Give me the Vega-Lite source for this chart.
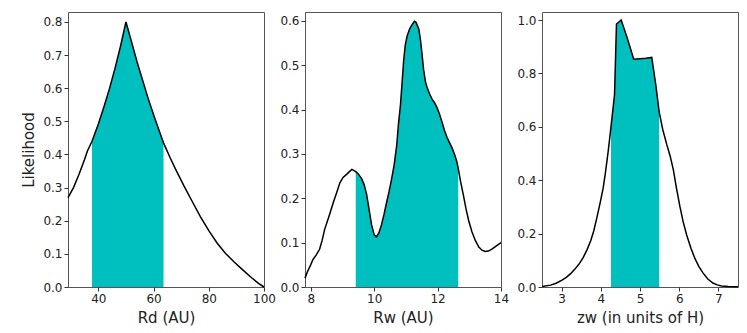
{
  "$schema": "https://vega.github.io/schema/vega-lite/v6.json",
  "padding": {"left": 21, "top": 11, "right": 5, "bottom": 2},
  "background": "white",
  "spacing": 41,
  "bounds": "flush",
  "datasets": {
    "rd": [
      {"x": 29, "y": 0.27}, {"x": 31, "y": 0.30}, {"x": 33, "y": 0.34}, {"x": 35, "y": 0.385},
      {"x": 36, "y": 0.41}, {"x": 37.7, "y": 0.44}, {"x": 40, "y": 0.492}, {"x": 42, "y": 0.543},
      {"x": 44, "y": 0.598}, {"x": 46, "y": 0.659}, {"x": 48, "y": 0.726}, {"x": 50, "y": 0.80},
      {"x": 52, "y": 0.74}, {"x": 54, "y": 0.68}, {"x": 56, "y": 0.625}, {"x": 58, "y": 0.57},
      {"x": 60, "y": 0.52}, {"x": 62, "y": 0.472}, {"x": 63.6, "y": 0.435}, {"x": 66, "y": 0.39},
      {"x": 68, "y": 0.355}, {"x": 71, "y": 0.305}, {"x": 74, "y": 0.258}, {"x": 77, "y": 0.212},
      {"x": 80, "y": 0.17}, {"x": 83, "y": 0.133}, {"x": 86, "y": 0.102}, {"x": 89, "y": 0.077},
      {"x": 92, "y": 0.054}, {"x": 95.5, "y": 0.028}, {"x": 98, "y": 0.011}, {"x": 100, "y": 0.0}
    ],
    "rw": [
      {"x": 7.82, "y": 0.02}, {"x": 7.9, "y": 0.035}, {"x": 8.0, "y": 0.05}, {"x": 8.07, "y": 0.062},
      {"x": 8.17, "y": 0.072}, {"x": 8.28, "y": 0.085}, {"x": 8.36, "y": 0.105}, {"x": 8.44, "y": 0.13},
      {"x": 8.58, "y": 0.16}, {"x": 8.71, "y": 0.19}, {"x": 8.82, "y": 0.213}, {"x": 8.92, "y": 0.235},
      {"x": 9.02, "y": 0.247}, {"x": 9.13, "y": 0.254}, {"x": 9.22, "y": 0.26}, {"x": 9.3, "y": 0.265},
      {"x": 9.42, "y": 0.26}, {"x": 9.5, "y": 0.255}, {"x": 9.6, "y": 0.245}, {"x": 9.68, "y": 0.232},
      {"x": 9.76, "y": 0.21}, {"x": 9.84, "y": 0.175}, {"x": 9.92, "y": 0.14}, {"x": 10.0, "y": 0.118},
      {"x": 10.07, "y": 0.113}, {"x": 10.15, "y": 0.122}, {"x": 10.23, "y": 0.14}, {"x": 10.31, "y": 0.163},
      {"x": 10.39, "y": 0.19}, {"x": 10.47, "y": 0.215}, {"x": 10.55, "y": 0.243}, {"x": 10.63, "y": 0.275},
      {"x": 10.71, "y": 0.318}, {"x": 10.77, "y": 0.37}, {"x": 10.83, "y": 0.41}, {"x": 10.88, "y": 0.46},
      {"x": 10.93, "y": 0.51}, {"x": 10.98, "y": 0.545}, {"x": 11.04, "y": 0.566}, {"x": 11.12, "y": 0.582},
      {"x": 11.2, "y": 0.592}, {"x": 11.27, "y": 0.599}, {"x": 11.32, "y": 0.597}, {"x": 11.41, "y": 0.581},
      {"x": 11.46, "y": 0.558}, {"x": 11.51, "y": 0.525}, {"x": 11.56, "y": 0.49}, {"x": 11.62, "y": 0.462},
      {"x": 11.67, "y": 0.45}, {"x": 11.75, "y": 0.435}, {"x": 11.83, "y": 0.423}, {"x": 11.9, "y": 0.416},
      {"x": 11.98, "y": 0.405}, {"x": 12.06, "y": 0.39}, {"x": 12.14, "y": 0.372}, {"x": 12.22, "y": 0.353},
      {"x": 12.3, "y": 0.337}, {"x": 12.38, "y": 0.325}, {"x": 12.46, "y": 0.313}, {"x": 12.54, "y": 0.298},
      {"x": 12.61, "y": 0.282}, {"x": 12.65, "y": 0.268}, {"x": 12.72, "y": 0.24}, {"x": 12.82, "y": 0.205},
      {"x": 12.9, "y": 0.175}, {"x": 12.98, "y": 0.15}, {"x": 13.08, "y": 0.125}, {"x": 13.19, "y": 0.105},
      {"x": 13.3, "y": 0.09}, {"x": 13.4, "y": 0.083}, {"x": 13.5, "y": 0.08}, {"x": 13.6, "y": 0.081},
      {"x": 13.7, "y": 0.085}, {"x": 13.8, "y": 0.09}, {"x": 13.9, "y": 0.095}, {"x": 14.0, "y": 0.1}
    ],
    "zw": [
      {"x": 2.5, "y": 0.002}, {"x": 2.72, "y": 0.007}, {"x": 2.86, "y": 0.014}, {"x": 3.0, "y": 0.025},
      {"x": 3.12, "y": 0.036}, {"x": 3.23, "y": 0.05}, {"x": 3.34, "y": 0.067}, {"x": 3.44, "y": 0.085},
      {"x": 3.55, "y": 0.11}, {"x": 3.65, "y": 0.14}, {"x": 3.74, "y": 0.172}, {"x": 3.82, "y": 0.21},
      {"x": 3.9, "y": 0.26}, {"x": 3.99, "y": 0.32}, {"x": 4.06, "y": 0.37}, {"x": 4.12, "y": 0.43},
      {"x": 4.19, "y": 0.51}, {"x": 4.26, "y": 0.6}, {"x": 4.35, "y": 0.72}, {"x": 4.40, "y": 0.985},
      {"x": 4.52, "y": 1.0}, {"x": 4.68, "y": 0.93}, {"x": 4.84, "y": 0.853}, {"x": 5.0, "y": 0.855},
      {"x": 5.15, "y": 0.857}, {"x": 5.3, "y": 0.86}, {"x": 5.4, "y": 0.76}, {"x": 5.49, "y": 0.655},
      {"x": 5.58, "y": 0.59}, {"x": 5.68, "y": 0.535}, {"x": 5.77, "y": 0.49}, {"x": 5.85, "y": 0.44},
      {"x": 5.93, "y": 0.37}, {"x": 6.02, "y": 0.30}, {"x": 6.1, "y": 0.245}, {"x": 6.19, "y": 0.195},
      {"x": 6.3, "y": 0.145}, {"x": 6.4, "y": 0.107}, {"x": 6.5, "y": 0.077}, {"x": 6.61, "y": 0.052},
      {"x": 6.73, "y": 0.03}, {"x": 6.86, "y": 0.015}, {"x": 6.97, "y": 0.008}, {"x": 7.08, "y": 0.004},
      {"x": 7.25, "y": 0.002}, {"x": 7.5, "y": 0.001}
    ]
  },
  "hconcat": [
    {
      "width": 196, "height": 275,
      "data": {"name": "rd"},
      "encoding": {
        "x": {"field": "x", "type": "quantitative", "scale": {"domain": [29, 100], "nice": false, "zero": false},
              "axis": {"values": [40, 60, 80, 100], "format": "d", "title": "Rd (AU)"}},
        "y": {"field": "y", "type": "quantitative", "scale": {"domain": [0, 0.83], "nice": false},
              "axis": {"values": [0, 0.1, 0.2, 0.3, 0.4, 0.5, 0.6, 0.7, 0.8], "format": ".1f", "title": "Likelihood"}}
      },
      "layer": [
        {"transform": [{"filter": "datum.x >= 37.69 && datum.x <= 63.61"}],
         "mark": {"type": "area", "color": "#00bfbf", "opacity": 1}},
        {"mark": {"type": "line", "color": "black", "strokeWidth": 1.5}}
      ]
    },
    {
      "width": 196, "height": 275,
      "data": {"name": "rw"},
      "encoding": {
        "x": {"field": "x", "type": "quantitative", "scale": {"domain": [7.82, 14], "nice": false, "zero": false},
              "axis": {"values": [8, 10, 12, 14], "format": "d", "title": "Rw (AU)"}},
        "y": {"field": "y", "type": "quantitative", "scale": {"domain": [0, 0.62], "nice": false},
              "axis": {"values": [0, 0.1, 0.2, 0.3, 0.4, 0.5, 0.6], "format": ".1f", "title": null}}
      },
      "layer": [
        {"transform": [{"filter": "datum.x >= 9.41 && datum.x <= 12.66"}],
         "mark": {"type": "area", "color": "#00bfbf", "opacity": 1}},
        {"mark": {"type": "line", "color": "black", "strokeWidth": 1.5}}
      ]
    },
    {
      "width": 196, "height": 275,
      "data": {"name": "zw"},
      "encoding": {
        "x": {"field": "x", "type": "quantitative", "scale": {"domain": [2.5, 7.5], "nice": false, "zero": false},
              "axis": {"values": [3, 4, 5, 6, 7], "format": "d", "title": "zw (in units of H)"}},
        "y": {"field": "y", "type": "quantitative", "scale": {"domain": [0, 1.03], "nice": false},
              "axis": {"values": [0, 0.2, 0.4, 0.6, 0.8, 1.0], "format": ".1f", "title": null}}
      },
      "layer": [
        {"transform": [{"filter": "datum.x >= 4.25 && datum.x <= 5.5"}],
         "mark": {"type": "area", "color": "#00bfbf", "opacity": 1}},
        {"mark": {"type": "line", "color": "black", "strokeWidth": 1.5}}
      ]
    }
  ],
  "config": {
    "font": "DejaVu Sans",
    "view": {"stroke": "#555", "strokeWidth": 1},
    "axis": {
      "grid": false, "domain": false,
      "tickColor": "#333", "tickSize": 4, "tickWidth": 1,
      "labelFont": "DejaVu Sans", "labelFontSize": 12, "labelColor": "#222", "labelPadding": 2,
      "labelFlush": false, "labelOverlap": false,
      "titleFont": "DejaVu Sans", "titleFontSize": 15, "titleFontWeight": "normal", "titleColor": "#222",
      "titlePadding": 6
    }
  }
}
